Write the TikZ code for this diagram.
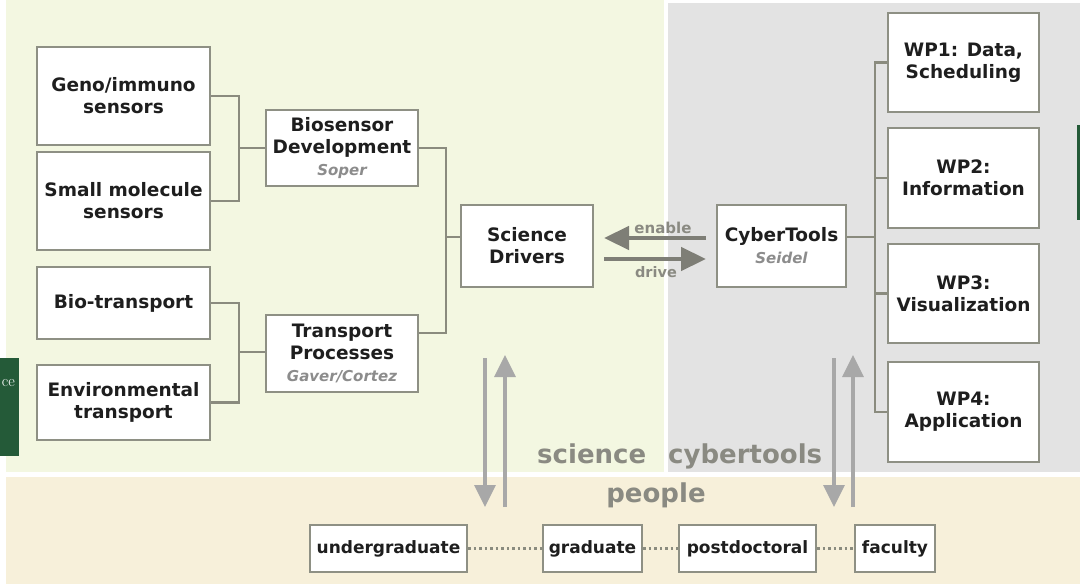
\documentclass[tikz,border=0pt]{standalone}
\usepackage{fontspec}
\newfontfamily\dv{DejaVu Sans}
\usetikzlibrary{arrows.meta,calc}
\definecolor{bgG}{HTML}{F3F7E1}
\definecolor{bgGrey}{HTML}{E3E3E3}
\definecolor{bgBeige}{HTML}{F7F0DA}
\definecolor{darkG}{HTML}{245A38}
\definecolor{bordc}{HTML}{8E9084}
\definecolor{connc}{HTML}{8A8B7E}
\definecolor{txt}{HTML}{1E1E1E}
\definecolor{namec}{HTML}{8C8C8C}
\definecolor{bigc}{HTML}{8A8A82}
\definecolor{arrdark}{HTML}{7E7E76}
\definecolor{arrlight}{HTML}{A8A8A8}
\tikzset{
  box/.style={draw=bordc, line width=2pt, fill=white, align=center, inner sep=0pt,
    text=txt, font=\dv\bfseries\fontsize{18.5}{22}\selectfont},
  pbox/.style={draw=bordc, line width=2pt, fill=white, align=center, inner sep=0pt,
    text=txt, font=\dv\bfseries\fontsize{17}{20}\selectfont, minimum height=47pt},
  conn/.style={draw=connc, line width=2.4pt},
  bigarrow/.style={draw=arrdark, line width=4.5pt, -{Triangle[length=25pt,width=23pt]}},
  varrow/.style={draw=arrlight, line width=3.2pt, -{Triangle[length=22pt,width=21pt]}},
  dotline/.style={draw=connc, line width=2.5pt, dash pattern=on 2.5pt off 3pt},
  bigtext/.style={text=bigc, font=\dv\bfseries\fontsize{26}{30}\selectfont, inner sep=0pt},
  smalltext/.style={text=bigc, font=\dv\bfseries\fontsize{15}{18}\selectfont, inner sep=0pt},
}
\newcommand{\who}[1]{{\color{namec}\itshape\fontsize{15}{20}\selectfont #1}}
\begin{document}
\begin{tikzpicture}[x=1pt,y=-1pt]
\useasboundingbox (0,0) rectangle (1080,584);
% backgrounds
\fill[white] (0,0) rectangle (1080,584);
\fill[bgG] (6,0) rectangle (664,472);
\fill[bgGrey] (668,3) rectangle (1080,472);
\fill[bgBeige] (6,477) rectangle (1080,584);
\fill[darkG] (0,358) rectangle (19,456);
\fill[darkG] (1077,125) rectangle (1080,220);
\node[anchor=base east, text=white, font=\fontsize{16}{18}\selectfont, inner sep=0pt] (ce) at (15,386) {ce};

% left column
\node[box, minimum width=173pt, minimum height=98pt] (geno) at (123.5,96) {Geno/immuno\\sensors};
\node[box, minimum width=173pt, minimum height=98pt] (small) at (123.5,201) {Small molecule\\sensors};
\node[box, minimum width=173pt, minimum height=72pt] (bio) at (123.5,303) {Bio-transport};
\node[box, minimum width=173pt, minimum height=75pt] (env) at (123.5,402.5) {Environmental\\transport};
% middle
\node[box, minimum width=152pt, minimum height=76pt] (biosensor) at (342,148) {Biosensor\\Development\\\who{Soper}};
\node[box, minimum width=152pt, minimum height=77pt] (transport) at (342,353.5) {Transport\\Processes\\\who{Gaver/Cortez}};
\node[box, minimum width=132pt, minimum height=82pt] (science) at (527,246) {Science\\Drivers};
\node[box, minimum width=129pt, minimum height=82pt] (cyber) at (781.5,246) {CyberTools\\\who{Seidel}};
% WP column
\node[box, minimum width=151pt, minimum height=99pt] (wp1) at (963.5,62.5) {WP1: Data,\\Scheduling};
\node[box, minimum width=151pt, minimum height=100pt] (wp2) at (963.5,178) {WP2:\\Information};
\node[box, minimum width=151pt, minimum height=99pt] (wp3) at (963.5,293.5) {WP3:\\Visualization};
\node[box, minimum width=151pt, minimum height=100pt] (wp4) at (963.5,412) {WP4:\\Application};

% connectors
\coordinate (j1) at (239,148);
\coordinate (j2) at (239,352);
\coordinate (j3) at (446,237);
\coordinate (j4) at (875,237);
\draw[conn] (geno.east) -| (j1) |- (small.east);
\draw[conn] (j1) -- (biosensor.west);
\draw[conn] (bio.east) -| (j2) |- (env.east);
\draw[conn] (j2) -- (transport.west |- j2);
\draw[conn] (biosensor.east) -| (j3) |- ([yshift=20.5pt]transport.east);
\draw[conn] (j3) -- (science.west |- j3);
\draw[conn] (cyber.east |- j4) -- (j4);
\draw[conn] (wp1.west) -| (j4) |- (wp4.west);
\draw[conn] (j4 |- wp2.west) -- (wp2.west);
\draw[conn] (j4 |- wp3.west) -- (wp3.west);

% enable / drive
\draw[bigarrow, shorten <=10pt, shorten >=10pt] ([yshift=8pt]cyber.west) -- ([yshift=8pt]science.east);
\draw[bigarrow, shorten <=10pt, shorten >=10pt] ([yshift=-13pt]science.east) -- ([yshift=-13pt]cyber.west);
\node[smalltext, anchor=base] (enable) at (663,233) {enable};
\node[smalltext, anchor=base, font=\dv\bfseries\fontsize{14.5}{18}\selectfont] (drive) at (656,277) {drive};

% big labels
\node[bigtext, anchor=base west] (sci) at (537,463) {science};
\node[bigtext, anchor=base west] (cyb) at (668,463) {cybertools};
\node[bigtext, anchor=base] (people) at (656,502) {people};

% people row
\node[pbox, minimum width=157pt] (ug) at (388.5,548.5) {undergraduate};
\node[pbox, minimum width=99pt] (grad) at (592.5,548.5) {graduate};
\node[pbox, minimum width=137pt] (post) at (747.5,548.5) {postdoctoral};
\node[pbox, minimum width=80pt] (fac) at (895,548.5) {faculty};
\draw[dotline] (ug.east) -- (grad.west);
\draw[dotline] (grad.east) -- (post.west);
\draw[dotline] (post.east) -- (fac.west);

% vertical arrows
\coordinate (la1) at (485,358);
\coordinate (la2) at (485,507);
\coordinate (lb1) at (505,507);
\coordinate (lb2) at (505,355);
\coordinate (ra1) at (834,358);
\coordinate (ra2) at (834,507);
\coordinate (rb1) at (853,507);
\coordinate (rb2) at (853,355);
\draw[varrow] (la1) -- (la2);
\draw[varrow] (lb1) -- (lb2);
\draw[varrow] (ra1) -- (ra2);
\draw[varrow] (rb1) -- (rb2);
\end{tikzpicture}
\end{document}
